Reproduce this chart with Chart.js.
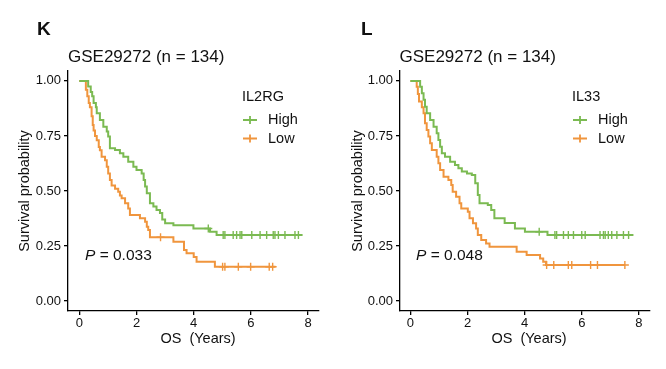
<!DOCTYPE html>
<html>
<head>
<meta charset="utf-8">
<script src="https://cdn.jsdelivr.net/npm/chart.js@4.4.0/dist/chart.umd.min.js"></script>
<style>
  html, body { margin: 0; padding: 0; background: #fff; }
  .row { display: flex; width: 666px; height: 369px; }
  .panel { width: 333px; height: 369px; position: relative; }
</style>
</head>
<body>
<div class="row">
  <div class="panel"><canvas id="chartK" width="333" height="369"></canvas></div>
  <div class="panel"><canvas id="chartL" width="333" height="369"></canvas></div>
</div>
<script>
// axis ticks
const yearTicks = [0, 2, 4, 6, 8];
const survTicks = [0, 0.25, 0.5, 0.75, 1];

// K: IL2RG
const kHighTime = [0, 0.31, 0.40, 0.45, 0.50, 0.58, 0.61, 0.72, 0.84, 0.96, 1.01, 1.07, 1.25, 1.42, 1.54, 1.71, 1.89, 2.00, 2.18, 2.25, 2.30, 2.36, 2.47, 2.59, 2.70, 2.82, 2.90, 3.00, 3.29, 3.99, 4.57, 4.80, 7.80];
const kHighSurv = [1, 0.975, 0.95, 0.93, 0.90, 0.88, 0.853, 0.823, 0.792, 0.77, 0.747, 0.694, 0.686, 0.671, 0.656, 0.633, 0.61, 0.595, 0.58, 0.55, 0.52, 0.49, 0.444, 0.43, 0.414, 0.40, 0.37, 0.353, 0.345, 0.33, 0.315, 0.30, 0.30];
const kHighCensor = [4.51, 5.03, 5.09, 5.38, 5.50, 5.62, 5.68, 6.03, 6.32, 6.55, 6.78, 6.84, 6.96, 7.19, 7.54, 7.66];

const kLowTime = [0, 0.23, 0.28, 0.33, 0.37, 0.43, 0.47, 0.50, 0.55, 0.61, 0.68, 0.72, 0.78, 0.90, 0.96, 1.01, 1.07, 1.13, 1.25, 1.36, 1.42, 1.48, 1.60, 1.71, 1.77, 2.12, 2.30, 2.36, 2.41, 2.47, 3.29, 3.66, 3.75, 4.00, 4.10, 4.74, 6.86];
const kLowSurv = [1, 0.96, 0.93, 0.90, 0.88, 0.84, 0.80, 0.775, 0.75, 0.73, 0.70, 0.685, 0.655, 0.64, 0.61, 0.58, 0.55, 0.525, 0.51, 0.497, 0.48, 0.467, 0.444, 0.421, 0.391, 0.376, 0.36, 0.338, 0.323, 0.29, 0.27, 0.232, 0.217, 0.20, 0.179, 0.156, 0.156];
const kLowCensor = [2.84, 5.01, 5.09, 5.56, 5.99, 6.64, 6.76];

// L: IL33
const lHighTime = [0, 0.34, 0.40, 0.46, 0.51, 0.57, 0.69, 0.81, 0.92, 0.98, 1.04, 1.10, 1.21, 1.39, 1.56, 1.68, 1.80, 1.98, 2.15, 2.27, 2.36, 2.42, 2.71, 2.83, 2.94, 3.30, 3.66, 4.01, 4.80, 7.81];
const lHighSurv = [1, 0.974, 0.944, 0.914, 0.883, 0.853, 0.823, 0.792, 0.762, 0.732, 0.701, 0.671, 0.656, 0.633, 0.618, 0.603, 0.588, 0.58, 0.573, 0.535, 0.482, 0.444, 0.436, 0.414, 0.376, 0.355, 0.33, 0.315, 0.30, 0.30];
const lHighCensor = [4.51, 5.06, 5.12, 5.36, 5.53, 5.71, 6.00, 6.12, 6.64, 6.76, 6.82, 6.93, 7.05, 7.23, 7.46, 7.64];

const lLowTime = [0, 0.22, 0.26, 0.30, 0.40, 0.46, 0.51, 0.57, 0.63, 0.69, 0.75, 0.92, 0.98, 1.04, 1.16, 1.33, 1.43, 1.48, 1.60, 1.72, 1.78, 2.01, 2.07, 2.19, 2.30, 2.36, 2.48, 2.65, 2.77, 3.72, 4.07, 4.54, 4.65, 4.75, 7.51];
const lLowSurv = [1, 0.974, 0.94, 0.906, 0.88, 0.853, 0.808, 0.777, 0.747, 0.717, 0.686, 0.656, 0.626, 0.595, 0.565, 0.55, 0.527, 0.497, 0.474, 0.444, 0.421, 0.406, 0.376, 0.353, 0.33, 0.30, 0.277, 0.262, 0.247, 0.224, 0.209, 0.194, 0.179, 0.164, 0.164];
const lLowCensor = [4.77, 5.02, 5.53, 5.65, 6.31, 6.55, 7.51];

const GREEN = '#7bba52';
const ORANGE = '#f0953d';
const FONT = '"Liberation Sans", Arial, Helvetica, sans-serif';
const INK = '#111';

function toPoints(times, surv) {
    return times.map((t, i) => ({ x: t, y: surv[i] }));
}

// survival value at time t (step function)
function survAt(times, surv, t) {
    let s = surv[0];
    for (let i = 0; i < times.length; i++) {
        if (times[i] <= t) s = surv[i];
    }
    return s;
}

function censorPoints(times, surv, censor) {
    return censor.map(t => ({ x: t, y: survAt(times, surv, t) }));
}

// panel letter, title, legend and p value
const panelText = {
    id: 'panelText',
    afterDraw(chart, args, o) {
        const ctx = chart.ctx;
        ctx.save();
        ctx.fillStyle = INK;
        ctx.textBaseline = 'middle';

        ctx.font = 'bold 19px ' + FONT;
        ctx.textAlign = 'left';
        ctx.fillText(o.letter, o.letterX, 30);

        ctx.font = '17px ' + FONT;
        ctx.fillText('GSE29272 (n = 134)', o.titleX, 57);

        // legend
        ctx.font = '14.5px ' + FONT;
        ctx.fillText(o.gene, o.legX, 97);
        [['High', GREEN, 120], ['Low', ORANGE, 138.5]].forEach(([lab, col, y]) => {
            ctx.strokeStyle = col;
            ctx.lineWidth = 1.8;
            ctx.beginPath();
            ctx.moveTo(o.legX + 1, y);
            ctx.lineTo(o.legX + 15, y);
            ctx.moveTo(o.legX + 8, y - 4);
            ctx.lineTo(o.legX + 8, y + 4);
            ctx.stroke();
            ctx.fillStyle = INK;
            ctx.fillText(lab, o.legX + 26, y);
        });

        // p value
        ctx.font = 'italic 15.5px ' + FONT;
        ctx.fillText('P', o.pX, 256);
        const w = ctx.measureText('P').width;
        ctx.font = '15.5px ' + FONT;
        ctx.fillText(' = ' + o.pValue, o.pX + w, 256);

        // axis titles
        ctx.font = '14.5px ' + FONT;
        ctx.textAlign = 'center';
        ctx.fillText('OS  (Years)', o.xTitleX, 339);
        ctx.translate(25, 191);
        ctx.rotate(-Math.PI / 2);
        ctx.fillText('Survival probability', 0, 0);
        ctx.restore();
    }
};

function makePanel(id, p) {
    const ctx = document.getElementById(id).getContext('2d');
    const axisLine = { display: true, color: '#000', width: 1.3 };
    const tickGrid = { display: true, drawOnChartArea: false, drawTicks: true, tickLength: 4, color: '#000', lineWidth: 1.3 };
    const tickFont = { family: FONT, size: 13 };

    new Chart(ctx, {
        type: 'line',
        data: {
            datasets: [
                { data: toPoints(p.highTime, p.highSurv), borderColor: GREEN, borderWidth: 2, stepped: true, pointRadius: 0, fill: false },
                { data: toPoints(p.lowTime, p.lowSurv), borderColor: ORANGE, borderWidth: 2, stepped: true, pointRadius: 0, fill: false },
                { type: 'scatter', data: censorPoints(p.highTime, p.highSurv, p.highCensor), borderColor: GREEN, pointStyle: 'cross', pointRadius: 4, borderWidth: 1.4, showLine: false },
                { type: 'scatter', data: censorPoints(p.lowTime, p.lowSurv, p.lowCensor), borderColor: ORANGE, pointStyle: 'cross', pointRadius: 4, borderWidth: 1.4, showLine: false }
            ]
        },
        options: {
            responsive: false,
            animation: false,
            events: [],
            devicePixelRatio: 1,
            layout: { padding: { top: 71, right: p.padRight, bottom: 0, left: 0 } },
            plugins: {
                legend: { display: false },
                tooltip: { enabled: false },
                panelText: p.text
            },
            scales: {
                x: {
                    type: 'linear',
                    min: p.xMin,
                    max: p.xMax,
                    afterBuildTicks: s => { s.ticks = yearTicks.map(v => ({ value: v })); },
                    afterFit: s => { s.height = 58; },
                    grid: tickGrid,
                    border: axisLine,
                    ticks: { font: tickFont, color: INK, padding: 1, maxRotation: 0 }
                },
                y: {
                    type: 'linear',
                    min: -0.045,
                    max: 1.045,
                    afterBuildTicks: s => { s.ticks = survTicks.map(v => ({ value: v })); },
                    afterFit: s => { s.width = p.yWidth; },
                    grid: tickGrid,
                    border: axisLine,
                    ticks: { font: tickFont, color: INK, padding: 3, callback: v => v.toFixed(2) }
                }
            }
        },
        plugins: [panelText]
    });
}

makePanel('chartK', {
    highTime: kHighTime, highSurv: kHighSurv, highCensor: kHighCensor,
    lowTime: kLowTime, lowSurv: kLowSurv, lowCensor: kLowCensor,
    xMin: -0.395, xMax: 8.38, yWidth: 68, padRight: 14,
    text: { letter: 'K', letterX: 37, titleX: 68, gene: 'IL2RG', legX: 242, pX: 85, pValue: '0.033', xTitleX: 198 }
});

makePanel('chartL', {
    highTime: lHighTime, highSurv: lHighSurv, highCensor: lHighCensor,
    lowTime: lLowTime, lowSurv: lLowSurv, lowCensor: lLowCensor,
    xMin: -0.365, xMax: 8.39, yWidth: 67, padRight: 16,
    text: { letter: 'L', letterX: 28, titleX: 66.5, gene: 'IL33', legX: 239, pX: 83, pValue: '0.048', xTitleX: 196 }
});
</script>
</body>
</html>
